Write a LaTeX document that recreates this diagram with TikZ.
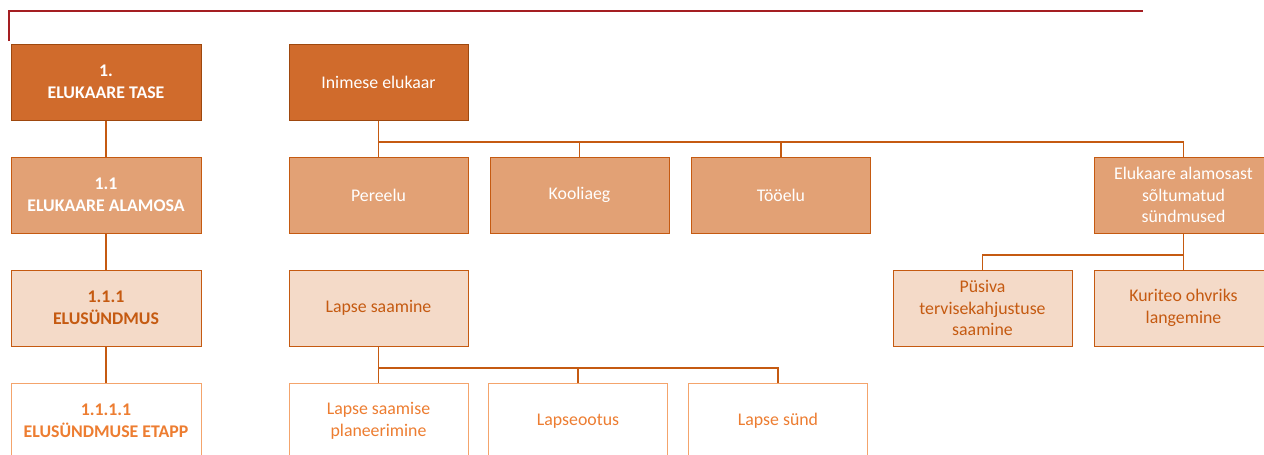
\documentclass[tikz,border=0pt]{standalone}
\usepackage{fontspec}
\setmainfont{Carlito}
\definecolor{redline}{HTML}{A41E22}
\definecolor{darkor}{HTML}{D06B2C}
\definecolor{edgeor}{HTML}{C55A11}
\definecolor{midor}{HTML}{E2A175}
\definecolor{paleor}{HTML}{F4DAC8}
\definecolor{lightedge}{HTML}{F4A46C}
\definecolor{textor}{HTML}{ED7D31}
\begin{document}
\begin{tikzpicture}[x=1pt,y=-1pt,
  box/.style={rectangle, minimum width=179pt, minimum height=76pt, align=center,
    inner sep=2pt, line width=1pt, font=\fontsize{17.8}{21.8}\selectfont},
  wide/.style={minimum width=190pt, font=\fontsize{17.8}{21.8}\selectfont\bfseries},
  lvlA/.style={box, fill=darkor, draw=edgeor!80!black, text=white},
  lvlB/.style={box, fill=midor, draw=edgeor, text=white},
  lvlC/.style={box, fill=paleor, draw=edgeor, text=edgeor},
  lvlD/.style={box, fill=white, draw=lightedge, text=textor},
  link/.style={draw=edgeor, line width=1.6pt},
  thinlink/.style={draw=edgeor, line width=1.1pt}]
\useasboundingbox (0,0) rectangle (1264,455);
\clip (0,0) rectangle (1264,455);

% header rule
\draw[redline, line width=1.8pt] (9,41) -- (9,11) -- (1143,11);

% legend column
\node[lvlA, wide] (la) at (106,82) {1.\\ELUKAARE TASE};
\node[lvlB, wide] (lb) at (106,195) {1.1\\ELUKAARE ALAMOSA};
\node[lvlC, wide] (lc) at (106,308) {1.1.1\\ELUSÜNDMUS};
\node[lvlD, wide] (ld) at (106,421) {1.1.1.1\\ELUSÜNDMUSE ETAPP};
\draw[thinlink] (la) -- (lb);
\draw[thinlink] (lb) -- (lc);
\draw[thinlink] (lc) -- (ld);

% life course tree
\node[lvlA] (root) at (378.5,82) {Inimese elukaar};
\node[lvlB] (pere) at (378.5,195) {Pereelu};
\node[lvlB] (kool) at (579.5,195) {Kooliaeg};
\node[lvlB] (too) at (781,195) {Tööelu};
\node[lvlB] (soltu) at (1183.5,195) {Elukaare alamosast\\sõltumatud\\sündmused};

\node[lvlC] (laps) at (378.5,308) {Lapse saamine};
\node[lvlC] (pusiv) at (982.5,308) {Püsiva\\tervisekahjustuse\\saamine};
\node[lvlC] (kurit) at (1183.5,308) {Kuriteo ohvriks\\langemine};

\node[lvlD] (plan) at (378.5,421) {Lapse saamise\\planeerimine};
\node[lvlD] (ootus) at (578,421) {Lapseootus};
\node[lvlD] (sund) at (778,421) {Lapse sünd};

\coordinate (rootj) at (378.5,142);
\coordinate (soltuj) at (1183.5,255);
\coordinate (lapsj) at (378.5,368);

\draw[link] (root.south) -- (rootj) -| (soltu.north);
\draw[thinlink] (rootj) -- (pere.north);
\draw[thinlink] (rootj) -| (kool.north);
\draw[thinlink] (rootj) -| (too.north);

\draw[thinlink] (soltu.south) -- (soltuj) -| (pusiv.north);
\draw[thinlink] (soltuj) -- (kurit.north);

\draw[link] (laps.south) -- (lapsj) -| (sund.north);
\draw[thinlink] (lapsj) -- (plan.north);
\draw[thinlink] (lapsj) -| (ootus.north);
\end{tikzpicture}
\end{document}
